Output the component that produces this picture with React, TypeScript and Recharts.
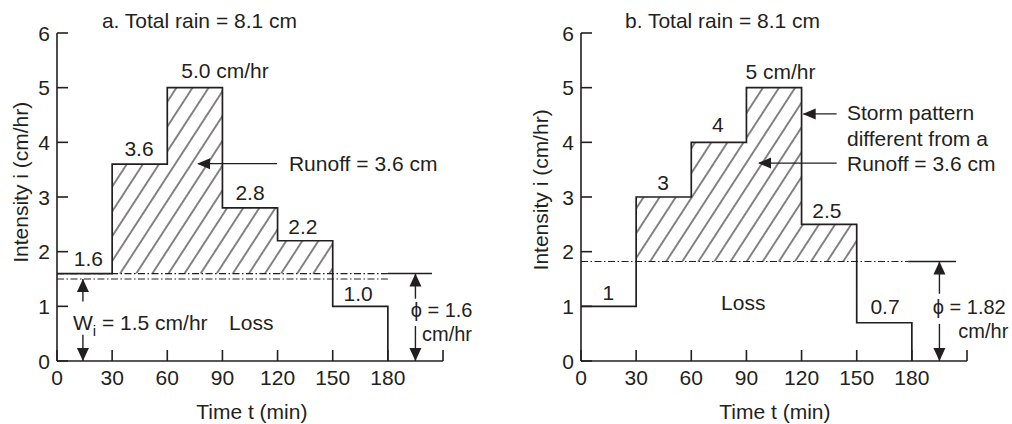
import React from 'react';
import { ComposedChart, Line, Area, XAxis, YAxis, ReferenceLine, ReferenceDot } from 'recharts';

// ---- data ----
const timeBreaks = [0, 30, 60, 90, 120, 150, 180];
const intensityA = [1.6, 3.6, 5.0, 2.8, 2.2, 1.0];
const intensityB = [1, 3, 4, 5, 2.5, 0.7];
const phiA = 1.6;
const phiB = 1.82;
const wiA = 1.5;
const xTicks = [0, 30, 60, 90, 120, 150, 180, 210];
const xTickLabels = ['0', '30', '60', '90', '120', '150', '180', ''];
const yTicks = [0, 1, 2, 3, 4, 5, 6];
const yTickLabels = ['0', '1', '2', '3', '4', '5', '6'];

// ---- style ----
const INK = '#231f20';
const FONT = '"Liberation Sans", Arial, Helvetica, sans-serif';
const FS = 21;
const DASHDOT = '7 2.5 1.5 2.5';

type Row = { t: number; v: number; hatch: [number, number] };

function buildRows(vals: number[], phi: number): Row[] {
  const rows: Row[] = vals.map((v, i) => ({ t: timeBreaks[i], v, hatch: [phi, Math.max(v, phi)] as [number, number] }));
  const end = timeBreaks[vals.length];
  const last = vals[vals.length - 1];
  rows.push({ t: end, v: last, hatch: [phi, Math.max(last, phi)] });
  rows.push({ t: end, v: 0, hatch: [phi, phi] });
  return rows;
}

const rowsA = buildRows(intensityA, phiA);
const rowsB = buildRows(intensityB, phiB);

// ---- annotation layout (data coordinates) ----
type Note = { t: number; v: number; text: string; anchor?: 'start' | 'middle' | 'end'; rotate?: number; sub?: string; rest?: string; size?: number };

const notesA: Note[] = [
  { t: 77.5, v: 6.23, text: 'a. Total rain = 8.1 cm' },
  { t: 91.4, v: 5.31, text: '5.0 cm/hr' },
  { t: 44.6, v: 3.89, text: '3.6' },
  { t: 126.2, v: 3.61, text: 'Runoff = 3.6 cm', anchor: 'start' },
  { t: 105, v: 3.08, text: '2.8' },
  { t: 133.8, v: 2.47, text: '2.2' },
  { t: 17.1, v: 1.88, text: '1.6' },
  { t: 163.8, v: 1.23, text: '1.0' },
  { t: 8.7, v: 0.71, text: 'W', sub: 'i', rest: ' = 1.5 cm/hr', anchor: 'start' },
  { t: 93.6, v: 0.71, text: 'Loss', anchor: 'start' },
  { t: 192.4, v: 0.93, text: '\u03D5 = 1.6', anchor: 'start', size: 20 },
  { t: 198.6, v: 0.5, text: 'cm/hr', anchor: 'start', size: 20 },
  { t: 106, v: -0.915, text: 'Time t (min)' },
  { t: -20.1, v: 3.27, text: 'Intensity i (cm/hr)', rotate: -90 },
];

const notesB: Note[] = [
  { t: 77, v: 6.23, text: 'b. Total rain = 8.1 cm' },
  { t: 108.5, v: 5.3, text: '5 cm/hr' },
  { t: 74.5, v: 4.33, text: '4' },
  { t: 44.6, v: 3.27, text: '3' },
  { t: 144.7, v: 4.55, text: 'Storm pattern', anchor: 'start' },
  { t: 144.7, v: 4.07, text: 'different from a', anchor: 'start' },
  { t: 144.7, v: 3.62, text: 'Runoff = 3.6 cm', anchor: 'start' },
  { t: 133.8, v: 2.76, text: '2.5' },
  { t: 14.9, v: 1.26, text: '1' },
  { t: 76.2, v: 1.07, text: 'Loss', anchor: 'start' },
  { t: 165.4, v: 1.0, text: '0.7' },
  { t: 191.4, v: 0.99, text: '\u03D5 = 1.82', anchor: 'start', size: 20 },
  { t: 205.3, v: 0.56, text: 'cm/hr', anchor: 'start', size: 20 },
  { t: 105.5, v: -0.915, text: 'Time t (min)' },
  { t: -21.9, v: 3.13, text: 'Intensity i (cm/hr)', rotate: -90 },
];

type Seg = { x1: number; y1: number; x2: number; y2: number; dash?: boolean };
type Head = { t: number; v: number; dir: 'up' | 'down' | 'left' };

const segsA: Seg[] = [
  { x1: 0, y1: phiA, x2: 180, y2: phiA, dash: true },
  { x1: 180, y1: phiA, x2: 204, y2: phiA },
  { x1: 0, y1: wiA, x2: 180, y2: wiA, dash: true },
  // phi dimension arrow
  { x1: 195, y1: phiA, x2: 195, y2: 1.14 },
  { x1: 195, y1: 0.64, x2: 195, y2: 0 },
  // Wi dimension arrow
  { x1: 14.1, y1: wiA, x2: 14.1, y2: 1.09 },
  { x1: 14.1, y1: 0.48, x2: 14.1, y2: 0 },
  // runoff arrow
  { x1: 119.7, y1: 3.61, x2: 77, y2: 3.61 },
];
const headsA: Head[] = [
  { t: 195, v: phiA, dir: 'up' },
  { t: 195, v: 0, dir: 'down' },
  { t: 14.1, v: wiA, dir: 'up' },
  { t: 14.1, v: 0, dir: 'down' },
  { t: 76.2, v: 3.61, dir: 'left' },
];

const segsB: Seg[] = [
  { x1: 0, y1: phiB, x2: 178, y2: phiB, dash: true },
  { x1: 178, y1: phiB, x2: 204, y2: phiB },
  { x1: 195, y1: phiB, x2: 195, y2: 1.23 },
  { x1: 195, y1: 0.68, x2: 195, y2: 0 },
  { x1: 139.1, y1: 4.52, x2: 121, y2: 4.52 },
  { x1: 139.1, y1: 3.62, x2: 97, y2: 3.62 },
];
const headsB: Head[] = [
  { t: 195, v: phiB, dir: 'up' },
  { t: 195, v: 0, dir: 'down' },
  { t: 120.6, v: 4.52, dir: 'left' },
  { t: 96.3, v: 3.62, dir: 'left' },
];

// ---- render helpers ----
const XTick = (props: any) => {
  const { x, y, index } = props;
  return (
    <g>
      <line x1={x} y1={y} x2={x} y2={y - 11} stroke={INK} strokeWidth={1.6} />
      <text x={x} y={y + 16} dy="0.36em" textAnchor="middle" fontSize={FS} fontFamily={FONT} fill={INK}>
        {xTickLabels[index]}
      </text>
    </g>
  );
};

const YTick = (props: any) => {
  const { x, y, index } = props;
  return (
    <g>
      <line x1={x} y1={y} x2={x + 11} y2={y} stroke={INK} strokeWidth={1.6} />
      <text x={x - 7} y={y} dy="0.36em" textAnchor="end" fontSize={FS} fontFamily={FONT} fill={INK}>
        {yTickLabels[index]}
      </text>
    </g>
  );
};

const renderNote = (n: Note) => (p: any) => {
  const { cx, cy } = p;
  const size = n.size || FS;
  if (n.sub) {
    return (
      <text x={cx} y={cy} dy="0.36em" textAnchor={n.anchor || 'middle'} fontSize={size} fontFamily={FONT} fill={INK}>
        {n.text}
        <tspan fontSize={15} dy={6}>{n.sub}</tspan>
        <tspan dy={-6}>{n.rest}</tspan>
      </text>
    );
  }
  return (
    <text
      x={cx}
      y={cy}
      dy="0.36em"
      textAnchor={n.anchor || 'middle'}
      fontSize={size}
      fontFamily={FONT}
      fill={INK}
      transform={n.rotate ? `rotate(${n.rotate} ${cx} ${cy})` : undefined}
    >
      {n.text}
    </text>
  );
};

const renderHead = (h: Head) => (p: any) => {
  const { cx, cy } = p;
  const L = 13;
  const W = 6;
  let d = '';
  if (h.dir === 'up') d = `M${cx},${cy} L${cx - W},${cy + L} L${cx + W},${cy + L} Z`;
  else if (h.dir === 'down') d = `M${cx},${cy} L${cx - W},${cy - L} L${cx + W},${cy - L} Z`;
  else d = `M${cx},${cy} L${cx + L},${cy - 5.5} L${cx + L},${cy + 5.5} Z`;
  return <path d={d} fill={INK} stroke="none" />;
};

function Panel({ rows, notes, segs, heads, id, margin }: { rows: Row[]; notes: Note[]; segs: Seg[]; heads: Head[]; id: string; margin: any }) {
  return (
    <ComposedChart width={506} height={424} data={rows} margin={margin}>
      <defs>
        <pattern id={id} patternUnits="userSpaceOnUse" width={13.5} height={13.5} patternTransform="rotate(33)">
          <line x1={6.75} y1={0} x2={6.75} y2={13.5} stroke={INK} strokeWidth={1.1} />
        </pattern>
      </defs>
      <XAxis
        dataKey="t"
        type="number"
        domain={[0, 210]}
        ticks={xTicks}
        interval={0}
        height={30}
        tickSize={0}
        tickMargin={0}
        tickLine={false}
        axisLine={{ stroke: INK, strokeWidth: 1.6 }}
        tick={XTick}
      />
      <YAxis
        type="number"
        domain={[0, 6]}
        ticks={yTicks}
        interval={0}
        width={40}
        tickSize={0}
        tickMargin={0}
        tickLine={false}
        axisLine={{ stroke: INK, strokeWidth: 1.6 }}
        tick={YTick}
      />
      <Area
        dataKey="hatch"
        type="stepAfter"
        stroke="none"
        fill={`url(#${id})`}
        fillOpacity={1}
        isAnimationActive={false}
        activeDot={false}
      />
      {segs.map((s, i) => (
        <ReferenceLine
          key={`s${i}`}
          segment={[{ x: s.x1, y: s.y1 }, { x: s.x2, y: s.y2 }]}
          stroke={INK}
          strokeWidth={s.dash ? 1.2 : 1.4}
          strokeDasharray={s.dash ? DASHDOT : undefined}
          ifOverflow="visible"
        />
      ))}
      <Line
        dataKey="v"
        type="stepAfter"
        stroke={INK}
        strokeWidth={1.7}
        dot={false}
        activeDot={false}
        isAnimationActive={false}
      />
      {heads.map((h, i) => (
        <ReferenceDot key={`h${i}`} x={h.t} y={h.v} r={0} ifOverflow="visible" shape={renderHead(h)} />
      ))}
      {notes.map((n, i) => (
        <ReferenceDot key={`n${i}`} x={n.t} y={n.v} r={0} ifOverflow="visible" shape={renderNote(n)} />
      ))}
    </ComposedChart>
  );
}

export default function App() {
  return (
    <div style={{ position: 'absolute', left: 0, top: 0, width: 1012, height: 424, background: '#fff', display: 'flex' }}>
      <Panel rows={rowsA} notes={notesA} segs={segsA} heads={headsA} id="hatchA" margin={{ top: 33, right: 63, bottom: 33, left: 17 }} />
      <Panel rows={rowsB} notes={notesB} segs={segsB} heads={headsB} id="hatchB" margin={{ top: 33, right: 45, bottom: 33, left: 35 }} />
    </div>
  );
}
